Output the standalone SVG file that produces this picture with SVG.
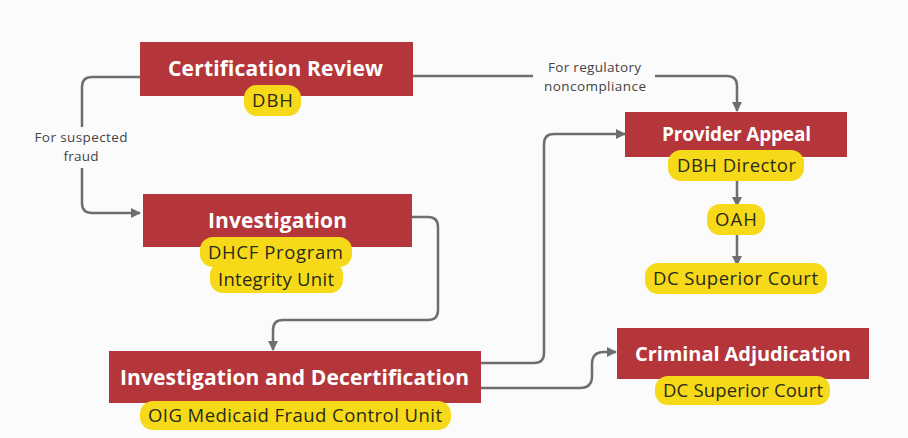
<svg xmlns="http://www.w3.org/2000/svg" width="908" height="438" viewBox="0 0 908 438">
<defs>
<style>
.box{fill:#b4363a;}
.pill{fill:#f6da1a;}
.t{font-family:"Open Sans",Lato,sans-serif;font-weight:bold;fill:#ffffff;text-anchor:middle;}
.p{font-family:"Open Sans",Lato,sans-serif;font-size:18.5px;fill:#2a2a1a;text-anchor:middle;}
.l{font-family:"Open Sans",Lato,sans-serif;font-size:13.5px;fill:#444444;text-anchor:middle;}
.c{fill:none;stroke:#6e6e6e;stroke-width:2.5;}
</style>
<marker id="ah" viewBox="0 0 10 10" refX="9" refY="5" markerWidth="4" markerHeight="4" orient="auto" markerUnits="strokeWidth">
<path d="M0,0 L10,5 L0,10 z" fill="#6e6e6e"/>
</marker>
</defs>
<rect width="908" height="438" fill="#fbfbfb"/>
<g id="connectors">
<path class="c" d="M140,77 H92 Q82,77 82,87 V127"/>
<path class="c" d="M82,168 V203 Q82,213 92,213 H140" marker-end="url(#ah)"/>
<path class="c" d="M413,76 H533"/>
<path class="c" d="M655,76 H727 Q737,76 737,86 V111" marker-end="url(#ah)"/>
<path class="c" d="M412,217 H428 Q438,217 438,227 V310 Q438,320 428,320 H283 Q273,320 273,330 V350" marker-end="url(#ah)"/>
<path class="c" d="M481,363 H534 Q544,363 544,353 V144 Q544,134 554,134 H625" marker-end="url(#ah)"/>
<path class="c" d="M481,388 H580 Q592,388 592,376 V364 Q592,352 604,352 H616" marker-end="url(#ah)"/>
<path class="c" d="M737,181 V206" marker-end="url(#ah)"/>
<path class="c" d="M737,235 V265" marker-end="url(#ah)"/>
<text class="l" x="81" y="142" textLength="93">For suspected</text>
<text class="l" x="81" y="161" textLength="35">fraud</text>
<text class="l" x="594.5" y="72" textLength="93">For regulatory</text>
<text class="l" x="595" y="91" textLength="102">noncompliance</text>
</g>
<g id="certification-review">
<rect class="box" x="140" y="42" width="273" height="54"/>
<text class="t" x="275.5" y="75.5" font-size="21" textLength="215">Certification Review</text>
<rect class="pill" x="244" y="85" width="57" height="31" rx="13"/>
<text class="p" x="272.5" y="107" textLength="41">DBH</text>
</g>
<g id="investigation">
<rect class="box" x="143" y="194" width="269" height="53"/>
<text class="t" x="277.5" y="227.5" font-size="21" textLength="139">Investigation</text>
<rect class="pill" x="200" y="237" width="152" height="30" rx="13"/>
<rect class="pill" x="210" y="262" width="133" height="31" rx="13"/>
<text class="p" x="275.5" y="258.5" textLength="135">DHCF Program</text>
<text class="p" x="276" y="285.5" textLength="116">Integrity Unit</text>
</g>
<g id="investigation-decertification">
<rect class="box" x="109" y="351" width="372" height="52"/>
<text class="t" x="294.5" y="384.5" font-size="21" textLength="349">Investigation and Decertification</text>
<rect class="pill" x="140" y="401" width="311" height="29" rx="13"/>
<text class="p" x="295" y="421.5" textLength="294">OIG Medicaid Fraud Control Unit</text>
</g>
<g id="provider-appeal">
<rect class="box" x="625" y="112" width="222" height="45"/>
<text class="t" x="736.5" y="140.5" font-size="19" textLength="149">Provider Appeal</text>
<rect class="pill" x="668" y="150" width="136" height="31" rx="13"/>
<text class="p" x="736.5" y="172" textLength="119">DBH Director</text>
</g>
<g id="oah">
<rect class="pill" x="707" y="204" width="58" height="31" rx="13"/>
<text class="p" x="736" y="226" textLength="42">OAH</text>
</g>
<g id="dc-superior-court-1">
<rect class="pill" x="645" y="263" width="182" height="31" rx="13"/>
<text class="p" x="735.5" y="285" textLength="165">DC Superior Court</text>
</g>
<g id="criminal-adjudication">
<rect class="box" x="617" y="328" width="252" height="51"/>
<text class="t" x="743" y="360.5" font-size="20" textLength="216">Criminal Adjudication</text>
<rect class="pill" x="655" y="376" width="175" height="29" rx="13"/>
<text class="p" x="743" y="397" textLength="160">DC Superior Court</text>
</g>
</svg>
